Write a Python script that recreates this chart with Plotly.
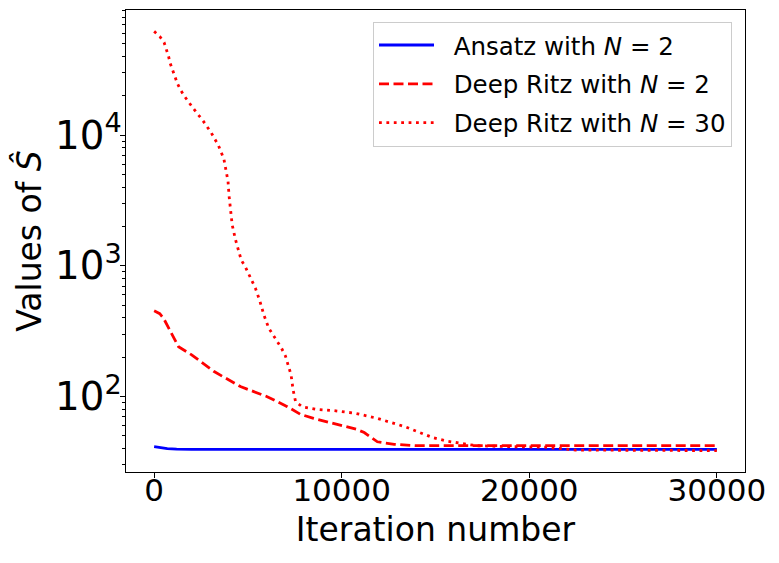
import plotly.graph_objects as go

# Ansatz with N=2
ansatz_iter = [0, 300, 700, 1200, 2000, 30000]
ansatz_val = [41.3, 40.5, 39.9, 39.6, 39.4, 39.4]

# Deep Ritz with N=2
dr2_iter = [0, 300, 500, 1000, 1300, 2000, 3200, 4600, 6000, 7100, 7800, 8500, 9900,
            10800, 11200, 11900, 12800, 14000, 20000, 30000]
dr2_val = [452, 430, 397, 287, 240, 208, 155, 119, 100, 83.5, 73, 68, 60.5,
           56, 53, 45, 43, 42.0, 42.0, 42.0]

# Deep Ritz with N=30
dr30_iter = [0, 300, 530, 660, 770, 850, 980, 1100, 1250, 1420, 1650, 2100, 2600, 3030,
             3420, 3720, 3870, 3940, 3990, 4160, 4340, 4640, 4870, 5190, 5400, 5630, 5850,
             6110, 6350, 6560, 6790, 7000, 7180, 7300, 7410, 7540, 7890, 8600, 9570,
             10720, 11880, 12660, 13370, 14070, 14870, 15580, 16290, 17170, 18940,
             20890, 22480, 30000]
dr30_val = [62100, 56900, 51200, 45500, 40000, 35600, 31200, 27600, 24600, 22000, 19500,
            15900, 12900, 10500, 8380, 6550, 5120, 4420, 3470, 2060, 1580, 1110, 975, 780,
            673, 541, 421, 333, 294, 263, 234, 204, 171, 146, 112, 91.3, 83.5, 79.8, 77.9,
            74.4, 68.1, 63.4, 58.7, 53.6, 48.4, 45.6, 43.8, 42.0, 41.3, 40.9, 38.9, 38.5]

x_ticks = [0, 10000, 20000, 30000]

pad = "\u2002\u200a"
fig = go.Figure()
fig.add_trace(go.Scatter(x=ansatz_iter, y=ansatz_val, mode="lines",
                         name=pad + "Ansatz with <i>N</i> = 2", legendgroup="a",
                         line=dict(color="#0000ff", width=2.8)))
fig.add_trace(go.Scatter(x=dr2_iter, y=dr2_val, mode="lines",
                         name=pad + "Deep Ritz with <i>N</i> = 2", legendgroup="b",
                         line=dict(color="#ff0000", width=2.8, dash="10px,4.5px")))
fig.add_trace(go.Scatter(x=dr30_iter, y=dr30_val, mode="lines",
                         name=pad + "Deep Ritz with <i>N</i> = 30", legendgroup="c",
                         line=dict(color="#ff0000", width=2.8, dash="2.8px,4.6px")))

font_family = "DejaVu Sans"
fig.update_layout(
    width=779, height=563,
    margin=dict(l=126, r=34, t=10, b=91),
    paper_bgcolor="white", plot_bgcolor="white",
    font=dict(family=font_family, color="black"),
    showlegend=True,
    legend=dict(x=0.979, y=0.975, xanchor="right", yanchor="top",
                bgcolor="rgba(255,255,255,0.8)", bordercolor="#cccccc", borderwidth=1,
                font=dict(size=24.5, family=font_family), tracegroupgap=4,
                itemwidth=55),
    xaxis=dict(
        range=[-1500, 31500], tickvals=x_ticks, ticktext=[str(v) for v in x_ticks],
        showgrid=False, zeroline=False, showline=True, linecolor="black", linewidth=1.3,
        mirror=True, ticks="outside", ticklen=5, tickwidth=1.2, tickcolor="black",
        tickfont=dict(size=31), ticklabelstandoff=-14,
        title=dict(text="Iteration number", font=dict(size=33), standoff=10),
        automargin=False,
    ),
    yaxis=dict(
        type="log", range=[1.422, 4.957], dtick=1, exponentformat="power",
        showgrid=False, zeroline=False, showline=True, linecolor="black", linewidth=1.3,
        mirror=True, ticks="outside", ticklen=5, tickwidth=1.2, tickcolor="black",
        tickfont=dict(size=31), ticklabelstandoff=-8,
        minor=dict(ticks="outside", ticklen=3, tickwidth=0.9, tickcolor="black", showgrid=False),
        title=dict(text="Values of <i>Ŝ</i>", font=dict(size=33), standoff=3),
        automargin=False,
    ),
)

fig.write_html("out.html")
